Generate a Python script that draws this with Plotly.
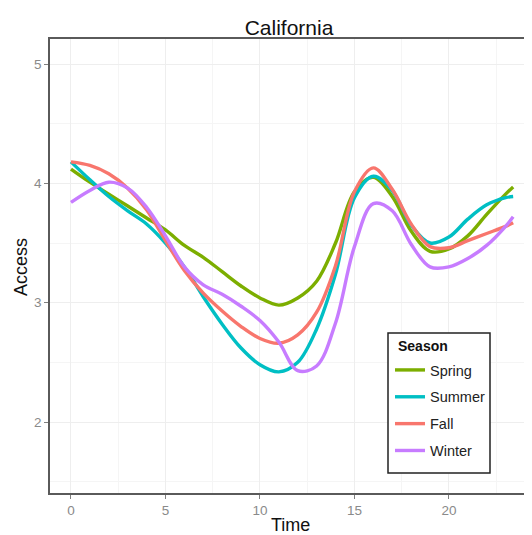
import plotly.graph_objects as go

time = [0, 1, 2, 3, 4, 5, 6, 7, 8, 9, 10, 11, 12, 13, 14, 15, 16, 17, 18, 19, 20, 21, 22, 23, 23.4]

spring = [4.12, 4.01, 3.91, 3.81, 3.71, 3.61, 3.48, 3.38, 3.26, 3.14, 3.04, 2.98, 3.04, 3.18, 3.50, 3.93, 4.05, 3.89, 3.60, 3.43, 3.45, 3.56, 3.74, 3.91, 3.97]
summer = [4.18, 4.03, 3.89, 3.77, 3.66, 3.50, 3.30, 3.05, 2.82, 2.62, 2.48, 2.42, 2.50, 2.78, 3.24, 3.88, 4.06, 3.94, 3.65, 3.50, 3.55, 3.70, 3.82, 3.88, 3.89]
fall = [4.18, 4.15, 4.08, 3.96, 3.78, 3.52, 3.27, 3.08, 2.93, 2.80, 2.70, 2.66, 2.73, 2.92, 3.31, 3.93, 4.13, 3.95, 3.66, 3.47, 3.46, 3.52, 3.58, 3.64, 3.67]
winter = [3.84, 3.94, 4.01, 3.96, 3.80, 3.56, 3.30, 3.15, 3.07, 2.97, 2.85, 2.67, 2.43, 2.47, 2.83, 3.47, 3.83, 3.77, 3.49, 3.30, 3.30, 3.37, 3.48, 3.64, 3.72]

season_names = ["Spring", "Summer", "Fall", "Winter"]
season_colors = ["#7CAE00", "#00BFC4", "#F8766D", "#C77CFF"]
series = [spring, summer, fall, winter]

x_ticks = [0, 5, 10, 15, 20]
y_ticks = [2, 3, 4, 5]

FONT = "Liberation Sans, Arial, sans-serif"
OFF = 7  # page body margin offset (approx.)

W, H = 532 - OFF, 535 - OFF
L, T, B = 49 - OFF, 38 - OFF, 535 - 492
PW, PH = W - L, H - T - B

fig = go.Figure()
for name, color, vals in zip(season_names, season_colors, series):
    fig.add_trace(go.Scatter(
        x=time, y=vals, mode="lines", name=name, legendgroup=name,
        line=dict(color=color, width=3.4, shape="spline", smoothing=1.0),
    ))

axis_common = dict(
    showline=True, linecolor="#5a5a5a", linewidth=1.5,
    ticks="outside", ticklen=4, tickcolor="#7f7f7f", tickwidth=1,
    tickfont=dict(family=FONT, size=13.5, color="#8a8a8a"),
    showgrid=True, gridcolor="#eeeeee", gridwidth=1,
    zeroline=False, automargin=False,
)

def px_x(px):
    return (px - OFF - L) / PW

def px_y(py):
    return (H - B - (py - OFF)) / PH

fig.update_layout(
    width=W, height=H,
    margin=dict(l=L, r=0, t=T, b=B, pad=0),
    paper_bgcolor="white", plot_bgcolor="white",
    title=dict(text="California", x=(288 - OFF) / W, xref="container", xanchor="center",
               y=1 - (27 - OFF) / H, yref="container", yanchor="middle",
               font=dict(family=FONT, size=21, color="#111111")),
    xaxis=dict(
        range=[-1.11, 24.45], tickvals=x_ticks, mirror=True,
        minor=dict(dtick=2.5, tick0=0, showgrid=True, gridcolor="#f5f5f5", ticks=""),
        **axis_common,
    ),
    yaxis=dict(
        range=[1.405, 5.21], tickvals=y_ticks,
        minor=dict(dtick=0.5, tick0=0, showgrid=True, gridcolor="#f5f5f5", ticks=""),
        **axis_common,
    ),
    legend=dict(
        x=px_x(389), y=px_y(353), xanchor="left", yanchor="top",
        bgcolor="rgba(0,0,0,0)", borderwidth=0,
        font=dict(family=FONT, size=14.5, color="#222222"),
        tracegroupgap=5, itemwidth=30,
    ),
    shapes=[
        dict(type="rect", xref="paper", yref="paper", layer="above",
             x0=px_x(387), x1=px_x(489), y0=px_y(472), y1=px_y(332),
             fillcolor="white", line=dict(color="#222222", width=1.5)),
    ],
    annotations=[
        dict(text="<b>Season</b>", xref="paper", yref="paper", x=px_x(395), y=px_y(345),
             xanchor="left", yanchor="middle", showarrow=False,
             font=dict(family=FONT, size=14, color="#111111")),
        dict(text="Time", xref="paper", yref="paper", x=px_x(289), y=px_y(524),
             xanchor="center", yanchor="middle", showarrow=False,
             font=dict(family=FONT, size=18, color="#111111")),
        dict(text="Access", xref="paper", yref="paper", x=px_x(20), y=px_y(266),
             xanchor="center", yanchor="middle", showarrow=False, textangle=-90,
             font=dict(family=FONT, size=18, color="#111111")),
    ],
)

fig.write_html("out.html")
